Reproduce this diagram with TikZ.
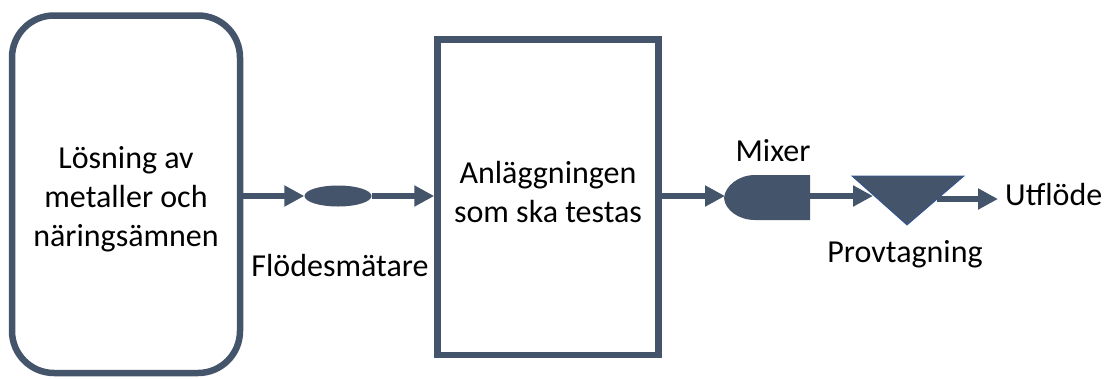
\documentclass[tikz,border=0pt]{standalone}
\usepackage{fontspec}
\setmainfont{Carlito}
\usetikzlibrary{arrows.meta,shapes.geometric}
\definecolor{slate}{HTML}{44546A}
\definecolor{triedge}{HTML}{2F5597}
\begin{document}
\begin{tikzpicture}[x=1pt,y=-1pt,
  box/.style={draw=slate,line width=6.5pt,inner sep=0pt},
  lbl/.style={font=\fontsize{32}{39}\selectfont,text=black,inner sep=0pt,align=center},
  flow/.style={draw=slate,line width=5.5pt,-{Triangle[length=20pt,width=20pt]}},
  solid/.style={fill=slate,draw=none}]
\useasboundingbox (0,0) rectangle (1107,378);
% source box
\node[box,rounded corners=42pt,minimum width=228pt,minimum height=357.5pt] (src) at (126,194.25) {};
\node[lbl] (srctext) at (126,199) {Lösning av\\metaller och\\näringsämnen};
% test plant
\node[box,minimum width=221pt,minimum height=315.5pt] (plant) at (548,197.25) {};
\node[lbl] (planttext) at (548,192) {Anläggningen\\som ska testas};
% flow meter
\node[solid,ellipse,inner sep=0pt,minimum width=67pt,minimum height=21pt] (meter) at (338,196) {};
\node[lbl,anchor=base] (metertext) at (340,276) {Flödesmätare};
% mixer
\path[solid] (810,175) -- (755,175) .. controls (738.5,175) and (725,186) .. (724,198)
  .. controls (725,210) and (738.5,220) .. (755,220) -- (810,220) -- cycle;
\coordinate (mixin) at (725,196);
\coordinate (mixout) at (810,196);
\node[lbl,anchor=base] (mixtext) at (773,161) {Mixer};
% sampling triangle
\path[fill=slate,draw=triedge,line width=0.8pt] (852,176) -- (964,176) -- (907,225) -- cycle;
\coordinate (triin) at (873,196);
\coordinate (triout) at (937,199);
\node[lbl,anchor=base] (tritext) at (905,262) {Provtagning};
% outflow
\node[lbl,anchor=base west] (out) at (1005,205) {Utflöde};
% connectors
\draw[flow] (src.east |- meter.west) -- (meter.west);
\draw[flow] (meter.east) -- (plant.west |- meter.east);
\draw[flow] (plant.east |- mixin) -- (mixin);
\draw[flow] (mixout) -- (triin);
\draw[flow,shorten >=7pt] (triout) -- (out.west |- triout);
\end{tikzpicture}
\end{document}
